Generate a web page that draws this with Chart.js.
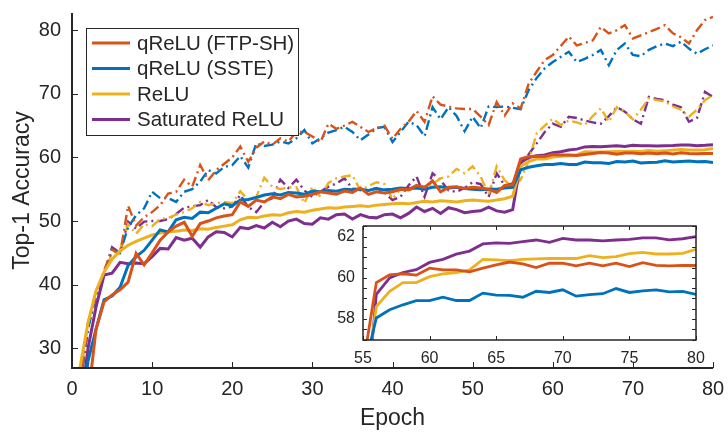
<!doctype html>
<html lang="en">

<head>
  <meta charset="utf-8">
  <title>Top-1 Accuracy vs Epoch</title>
  <script src="https://cdn.jsdelivr.net/npm/chart.js"></script>
  <style>
    body { margin: 0; background: #fff; }
    #wrap { position: relative; width: 728px; height: 433px; }
    #main { position: absolute; left: 0; top: 0; }
    #inset { position: absolute; left: 330px; top: 220px; }
  </style>
</head>

<body>
  <div id="wrap">
    <canvas id="main" width="728" height="433"></canvas>
    <canvas id="inset" width="380" height="148"></canvas>
  </div>

<script>
  //--------------------------------- data ---------------------------------
  const epochs = [1, 2, 3, 4, 5, 6, 7, 8, 9, 10, 11, 12, 13, 14, 15, 16, 17, 18, 19, 20,
    21, 22, 23, 24, 25, 26, 27, 28, 29, 30, 31, 32, 33, 34, 35, 36, 37, 38, 39, 40,
    41, 42, 43, 44, 45, 46, 47, 48, 49, 50, 51, 52, 53, 54, 55, 56, 57, 58, 59, 60,
    61, 62, 63, 64, 65, 66, 67, 68, 69, 70, 71, 72, 73, 74, 75, 76, 77, 78, 79, 80]

  const labels = ['qReLU (FTP-SH)', 'qReLU (SSTE)', 'ReLU', 'Saturated ReLU']

  // solid lines
  const ftpSolid = [15, 22, 33, 37.3, 38.4, 39.2, 40.4, 44.9, 43.1, 45.0, 47.0, 48.3, 49.2, 49.8, 47.6, 49.6, 50.0, 50.5, 50.8, 51.0,
    53.0, 52.3, 53.3, 53.0, 53.8, 53.5, 54.2, 53.8, 53.9, 54.2, 54.6, 54.4, 54.2, 54.7, 54.5, 55.2, 54.2, 54.6, 54.4, 54.6,
    55.0, 54.9, 55.6, 55.3, 56.3, 54.6, 55.3, 55.4, 55.1, 55.3, 55.2, 55.0, 54.5, 55.6, 55.7, 59.77, 60.15, 60.2, 60.13, 60.47,
    60.39, 60.39, 60.29, 60.47, 60.63, 60.77, 60.68, 60.5, 60.71, 60.71, 60.58, 60.71, 60.58, 60.71, 60.55, 60.74, 60.61, 60.58, 60.61, 60.6]
  const ssteSolid = [18, 28, 33, 37.6, 38.2, 39.6, 43.0, 44.4, 45.4, 47.0, 48.6, 48.3, 50.2, 50.6, 50.4, 51.4, 51.3, 52.0, 52.7, 52.4,
    53.3, 53.4, 53.7, 54.1, 54.3, 54.1, 54.5, 54.4, 54.2, 54.7, 54.6, 54.8, 54.7, 55.0, 54.9, 55.0, 54.8, 55.1, 54.9, 55.0,
    55.2, 55.1, 55.2, 55.0, 55.3, 55.4, 55.2, 55.3, 55.1, 55.0, 54.9, 55.0, 55.0, 55.2, 55.3, 58.05, 58.45, 58.69, 58.89, 58.89,
    59.06, 58.9, 58.9, 59.26, 59.16, 59.15, 59.06, 59.35, 59.29, 59.42, 59.11, 59.19, 59.23, 59.48, 59.29, 59.37, 59.42, 59.32, 59.34, 59.2]
  const reluSolid = [27, 34, 39, 42, 44, 45.3, 46.2, 46.8, 47.3, 47.8, 48.1, 48.3, 48.4, 48.6, 48.5, 48.8, 48.7, 49.0, 49.2, 49.4,
    50.2, 50.6, 50.5, 50.8, 51.0, 50.9, 51.3, 51.5, 51.4, 51.7, 51.9, 52.1, 52.0, 52.2, 52.3, 52.4, 52.3, 52.5, 52.6, 52.7,
    52.8, 52.7, 52.9, 53.1, 53.0, 53.2, 53.1, 53.0, 53.2, 53.3, 53.2, 53.1, 53.3, 53.5, 53.9, 58.6, 59.34, 59.77, 59.77, 60.06,
    60.19, 60.26, 60.39, 60.9, 60.87, 60.84, 60.9, 60.92, 60.94, 60.95, 60.94, 61.08, 60.98, 61.03, 61.18, 61.24, 61.16, 61.16, 61.19, 61.39]
  const satSolid = [20, 30, 36.5, 41.5, 41.8, 43.5, 43.3, 43.4, 43.3, 44.4, 45.7, 45.6, 47.4, 47.0, 47.3, 45.9, 47.5, 48.3, 48.2, 47.5,
    49.0, 48.8, 49.3, 48.9, 49.8, 49.1, 50.0, 50.3, 49.6, 49.5, 50.5, 50.3, 51.0, 51.1, 50.3, 51.0, 50.6, 50.5, 51.0, 51.1,
    50.5, 51.2, 52.2, 51.5, 52.0, 51.2, 52.1, 51.8, 51.3, 51.5, 51.6, 52.2, 51.6, 51.4, 51.8, 59.2, 60.0, 60.26, 60.4, 60.75,
    60.9, 61.15, 61.3, 61.65, 61.7, 61.68, 61.76, 61.84, 61.73, 61.92, 61.84, 61.84, 61.8, 61.84, 61.87, 61.94, 61.94, 61.85, 61.9, 62.0]

  // dash-dot lines
  const ftpDash = [24, 34, 38.5, 42.2, 45.5, 44.8, 52.4, 49.3, 50.6, 51.4, 52.5, 54.3, 54.6, 56.5, 55.4, 58.8, 56.4, 58.0, 59.0, 60.0,
    61.7, 59.3, 61.5, 62.5, 62.0, 63.0, 62.5, 64.0, 64.0, 63.3, 62.4, 65.3, 64.5, 65.0, 65.6, 64.8, 64.0, 64.6, 65.0, 62.9,
    64.5, 65.6, 67.3, 65.6, 69.6, 68.3, 68.0, 67.7, 67.6, 67.6, 66.4, 65.1, 68.7, 66.6, 68.5, 67.7, 71.6, 73.5, 75.3, 76.1,
    77.5, 79.0, 77.6, 78.0, 78.4, 80.5, 79.5, 80.0, 80.8, 78.7, 79.2, 79.7, 80.2, 80.8, 79.5, 78.9, 77.9, 80.0, 81.6, 82.1]
  const ssteDash = [24, 33, 38.5, 41.7, 45.5, 45.0, 49.0, 50.9, 52.0, 54.6, 53.6, 53.6, 53.0, 54.6, 55.0, 56.2, 58.0, 57.5, 58.5, 58.8,
    60.2, 58.4, 62.2, 61.8, 62.0, 62.5, 62.2, 63.0, 64.3, 62.2, 63.0, 63.9, 64.3, 64.8, 64.0, 62.7, 63.6, 64.6, 64.8, 62.4,
    64.0, 65.6, 65.1, 63.3, 67.9, 66.0, 67.9, 66.5, 64.1, 66.4, 64.6, 68.0, 67.9, 68.0, 67.8, 67.6, 70.6, 72.5, 74.0, 75.0,
    75.8, 76.6, 75.0, 75.5, 76.1, 76.9, 74.5, 76.9, 77.9, 76.1, 75.9, 76.9, 77.5, 77.9, 77.5, 78.2, 77.1, 76.3, 77.0, 77.6]
  const reluDash = [25, 34, 39, 41.7, 45.0, 45.5, 49.5, 48.0, 49.5, 49.2, 50.3, 50.5, 51.0, 51.4, 52.0, 53.0, 52.5, 52.8, 53.0, 52.8,
    54.7, 53.3, 53.8, 56.8, 55.4, 55.0, 55.3, 55.3, 52.8, 55.4, 53.8, 56.0, 56.7, 57.0, 57.2, 54.8, 55.5, 56.1, 55.8, 53.5,
    55.0, 54.8, 55.2, 55.4, 55.8, 56.7, 57.0, 58.2, 57.5, 58.6, 57.0, 54.1, 58.6, 56.4, 55.4, 56.5, 59.5, 63.8, 65.0, 66.1,
    65.1, 65.8, 65.5, 65.1, 66.5, 67.7, 65.6, 67.9, 67.2, 66.0, 67.5, 69.3, 69.0, 68.8, 68.0, 67.5, 66.4, 67.5, 69.0, 69.8]
  const satDash = [24, 33.4, 38.1, 41.7, 45.9, 45.0, 49.9, 48.8, 49.9, 50.0, 50.0, 50.3, 51.1, 52.1, 52.3, 52.5, 53.3, 52.2, 52.0, 52.3,
    54.1, 52.2, 51.4, 53.0, 53.6, 56.5, 55.2, 56.5, 54.8, 53.8, 54.6, 55.4, 55.9, 56.7, 55.1, 55.0, 54.8, 55.2, 54.5, 53.3,
    53.8, 55.6, 57.0, 53.8, 57.5, 56.4, 54.8, 54.6, 55.2, 56.1, 55.8, 53.8, 57.5, 55.6, 55.9, 59.0, 60.5, 62.2, 64.0, 65.3,
    64.8, 66.4, 66.2, 65.8, 65.5, 65.3, 66.5, 67.9, 67.2, 66.0, 65.3, 69.5, 69.2, 69.0, 68.3, 67.9, 65.6, 66.2, 70.3, 69.5]

  const xTicks = [0, 10, 20, 30, 40, 50, 60, 70, 80]
  const yTicks = [30, 40, 50, 60, 70, 80]
  const insetXTicks = [55, 60, 65, 70, 75, 80]
  const insetYTicks = [58, 60, 62]
  const insetMinorY = [57, 57.5, 58, 58.5, 59, 59.5, 60, 60.5, 61, 61.5, 62, 62.5]

  //--------------------------------- style ---------------------------------
  const colors = ['#D95319', '#0072BD', '#EDB120', '#7E2F8E']
  const axisColor = '#262626'
  const fontFamily = "'Liberation Sans', Arial, Helvetica, sans-serif"
  const dashDot = [10, 4, 2, 4]

  const toPoints = (vals, from = 0) =>
    epochs.slice(from).map((e, i) => ({ x: e, y: vals[from + i] }))

  const solids = [ftpSolid, ssteSolid, reluSolid, satSolid]
  const dashes = [ftpDash, ssteDash, reluDash, satDash]

  // no extra room for the end labels, the plot box is fixed by layout padding
  const noPadX = s => { s.paddingLeft = 0; s.paddingRight = 0 }
  const noPadY = s => { s.paddingTop = 0; s.paddingBottom = 0 }

  // inward ticks and axis lines (MATLAB look)
  const axesPlugin = {
    id: 'axesPlugin',
    beforeDatasetsDraw(chart, args, opts) {
      if (!opts.fill) return
      const a = chart.chartArea
      chart.ctx.save()
      chart.ctx.fillStyle = '#fff'
      chart.ctx.fillRect(a.left, a.top, a.right - a.left, a.bottom - a.top)
      chart.ctx.restore()
    },
    afterDatasetsDraw(chart, args, opts) {
      const { ctx, chartArea: a, scales: { x, y } } = chart
      ctx.save()
      ctx.strokeStyle = axisColor
      ctx.lineWidth = opts.lineWidth
      ctx.beginPath()
      ctx.moveTo(a.left, a.top)
      ctx.lineTo(a.left, a.bottom)
      ctx.lineTo(a.right, a.bottom)
      if (opts.box) {
        ctx.lineTo(a.right, a.top)
        ctx.lineTo(a.left, a.top)
      }
      ctx.stroke()
      ctx.lineWidth = 1
      ctx.beginPath()
      opts.xt.forEach(v => {
        const px = Math.round(x.getPixelForValue(v)) + 0.5
        ctx.moveTo(px, a.bottom); ctx.lineTo(px, a.bottom - opts.len)
        if (opts.box) { ctx.moveTo(px, a.top); ctx.lineTo(px, a.top + opts.len) }
      })
      opts.yt.forEach(v => {
        const py = Math.round(y.getPixelForValue(v)) + 0.5
        ctx.moveTo(a.left, py); ctx.lineTo(a.left + opts.len, py)
        if (opts.box) { ctx.moveTo(a.right, py); ctx.lineTo(a.right - opts.len, py) }
      })
      ctx.stroke()
      ctx.restore()
    }
  }

  const legendPlugin = {
    id: 'boxLegend',
    afterDatasetsDraw(chart) {
      const ctx = chart.ctx
      ctx.save()
      ctx.fillStyle = '#fff'
      ctx.fillRect(86, 28, 212, 107)
      ctx.strokeStyle = axisColor
      ctx.lineWidth = 1
      ctx.strokeRect(86.5, 28.5, 212, 107)
      ctx.font = `20.5px ${fontFamily}`
      ctx.textBaseline = 'middle'
      labels.forEach((name, i) => {
        const yy = 43 + i * 25.5
        ctx.strokeStyle = colors[i]
        ctx.lineWidth = 3
        ctx.beginPath()
        ctx.moveTo(92, yy); ctx.lineTo(130, yy)
        ctx.stroke()
        ctx.fillStyle = axisColor
        ctx.fillText(name, 137, yy + 1)
      })
      ctx.restore()
    }
  }

  //--------------------------------- main chart ---------------------------------
  const mainSets = []
  solids.forEach((vals, i) => mainSets.push({
    label: labels[i], data: toPoints(vals), borderColor: colors[i],
    borderWidth: 3, pointRadius: 0, tension: 0, fill: false
  }))
  dashes.forEach((vals, i) => mainSets.push({
    label: labels[i] + ' dash', data: toPoints(vals), borderColor: colors[i],
    borderWidth: 2.4, borderDash: dashDot, pointRadius: 0, tension: 0, fill: false
  }))

  new Chart(document.getElementById('main'), {
    type: 'line',
    data: { datasets: mainSets },
    options: {
      responsive: false, animation: false, devicePixelRatio: 1,
      layout: { padding: { top: 13, right: 15, left: 0, bottom: 0 } },
      plugins: {
        legend: { display: false }, tooltip: { enabled: false },
        axesPlugin: { lineWidth: 2, len: 6, xt: xTicks, yt: yTicks, box: false, fill: false }
      },
      scales: {
        x: {
          type: 'linear', min: 0, max: 80,
          afterBuildTicks: s => { s.ticks = xTicks.map(v => ({ value: v })) },
          afterFit: s => { s.height = 65; noPadX(s) },
          grid: { display: false, drawTicks: false }, border: { display: false },
          ticks: { color: axisColor, font: { family: fontFamily, size: 20 }, padding: 9, maxRotation: 0 },
          title: { display: true, text: 'Epoch', color: axisColor, font: { family: fontFamily, size: 23 }, padding: { top: 0, bottom: 1 } }
        },
        y: {
          type: 'linear', min: 26.9, max: 82.7,
          afterBuildTicks: s => { s.ticks = yTicks.map(v => ({ value: v })) },
          afterFit: s => { s.width = 72; noPadY(s) },
          grid: { display: false, drawTicks: false }, border: { display: false },
          ticks: { color: axisColor, font: { family: fontFamily, size: 20 }, padding: 11 },
          title: { display: true, text: 'Top-1 Accuracy', color: axisColor, font: { family: fontFamily, size: 23 }, padding: { top: 9, bottom: 0 } }
        }
      }
    },
    plugins: [axesPlugin, legendPlugin]
  })

  //--------------------------------- inset ---------------------------------
  const insetSets = solids.map((vals, i) => ({
    label: labels[i], data: toPoints(vals, 54), borderColor: colors[i],
    borderWidth: 2.8, pointRadius: 0, tension: 0, fill: false
  }))

  new Chart(document.getElementById('inset'), {
    type: 'line',
    data: { datasets: insetSets },
    options: {
      responsive: false, animation: false, devicePixelRatio: 1,
      layout: { padding: { top: 6, right: 14, left: 0, bottom: 0 } },
      plugins: {
        legend: { display: false }, tooltip: { enabled: false },
        axesPlugin: { lineWidth: 1.5, len: 4, xt: insetXTicks, yt: insetMinorY, box: true, fill: true }
      },
      scales: {
        x: {
          type: 'linear', min: 55, max: 80,
          afterBuildTicks: s => { s.ticks = insetXTicks.map(v => ({ value: v })) },
          afterFit: s => { s.height = 28; noPadX(s) },
          grid: { display: false, drawTicks: false }, border: { display: false },
          ticks: { color: axisColor, font: { family: fontFamily, size: 16 }, padding: 9, maxRotation: 0 }
        },
        y: {
          type: 'linear', min: 56.98, max: 62.52,
          afterBuildTicks: s => { s.ticks = insetYTicks.map(v => ({ value: v })) },
          afterFit: s => { s.width = 33; noPadY(s) },
          grid: { display: false, drawTicks: false }, border: { display: false },
          ticks: { color: axisColor, font: { family: fontFamily, size: 16 }, padding: 8 }
        }
      }
    },
    plugins: [axesPlugin]
  })
</script>
</body>

</html>
